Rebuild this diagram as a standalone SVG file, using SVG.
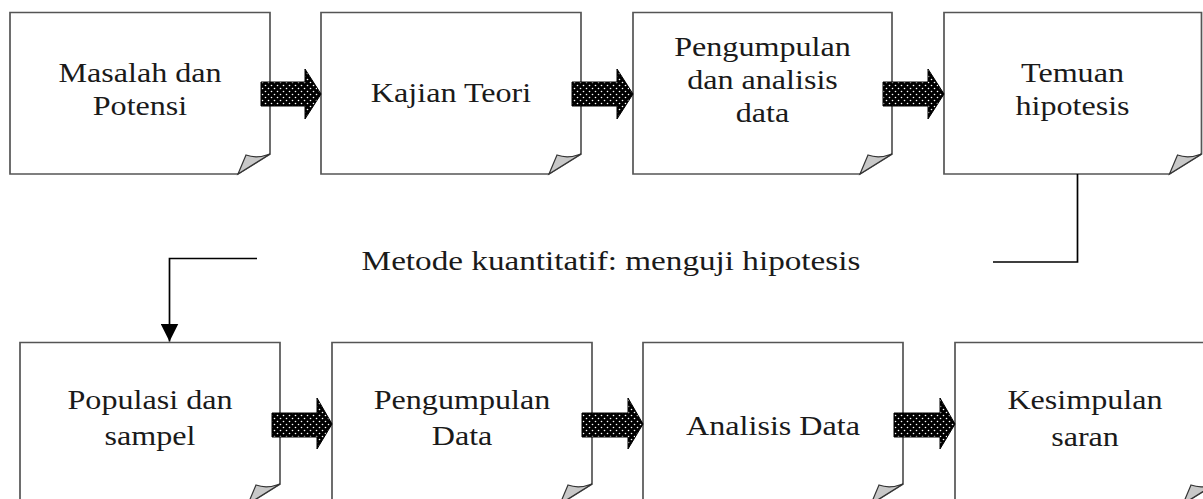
<svg xmlns="http://www.w3.org/2000/svg" width="1203" height="499" viewBox="0 0 1203 499">
<defs>
<pattern id="dots" width="6" height="6" patternUnits="userSpaceOnUse">
<rect width="6" height="6" fill="#000"/>
<circle cx="1.5" cy="1.5" r="0.8" fill="#fff"/>
<circle cx="4.5" cy="4.5" r="0.8" fill="#fff"/>
</pattern>
<marker id="ah" markerWidth="18" markerHeight="18" viewBox="0 0 18 18" refX="18" refY="9" orient="auto" markerUnits="userSpaceOnUse">
<path d="M0,0 L18,9 L0,18 Z" fill="#000"/>
</marker>
</defs>
<style>
.box{fill:#fff;stroke:#555;stroke-width:1.7}
.flap{fill:#c8c8c8;stroke:#333;stroke-width:1.2}
.blk{fill:url(#dots);stroke:#000;stroke-width:1}
.t{font-family:"Liberation Serif","Times New Roman",serif;font-size:27px;fill:#1a1a1a;text-anchor:middle}
.conn{fill:none;stroke:#000;stroke-width:1.7}
</style>

<g id="node-masalah">
<path class="box" d="M10,12.5 H270 V154 L238,174 H10 Z"/>
<path class="flap" d="M238,174 L246,155 Q257,159 270,154 Z"/>
<text class="t" transform="translate(140,82) scale(1.19,1)">Masalah dan</text>
<text class="t" transform="translate(140,115) scale(1.19,1)">Potensi</text>
</g>
<g id="node-kajian">
<path class="box" d="M321,12.5 H581 V154 L549,174 H321 Z"/>
<path class="flap" d="M549,174 L557,155 Q568,159 581,154 Z"/>
<text class="t" transform="translate(451,102) scale(1.19,1)">Kajian Teori</text>
</g>
<g id="node-pengumpulan1">
<path class="box" d="M633,12.5 H892 V154 L860,174 H633 Z"/>
<path class="flap" d="M860,174 L868,155 Q879,159 892,154 Z"/>
<text class="t" transform="translate(762.5,56) scale(1.19,1)">Pengumpulan</text>
<text class="t" transform="translate(762.5,89) scale(1.19,1)">dan analisis</text>
<text class="t" transform="translate(762.5,122) scale(1.19,1)">data</text>
</g>
<g id="node-temuan">
<path class="box" d="M944,12.5 H1201.5 V154 L1169.5,174 H944 Z"/>
<path class="flap" d="M1169.5,174 L1177.5,155 Q1188.5,159 1201.5,154 Z"/>
<text class="t" transform="translate(1072.5,82) scale(1.19,1)">Temuan</text>
<text class="t" transform="translate(1072.5,115) scale(1.19,1)">hipotesis</text>
</g>

<g id="node-populasi">
<path class="box" d="M20,342.5 H280 V484 L248,504 H20 Z"/>
<path class="flap" d="M248,504 L256,485 Q267,489 280,484 Z"/>
<text class="t" transform="translate(150,409) scale(1.19,1)">Populasi dan</text>
<text class="t" transform="translate(150,445) scale(1.19,1)">sampel</text>
</g>
<g id="node-pengumpulan2">
<path class="box" d="M332,342.5 H592 V484 L560,504 H332 Z"/>
<path class="flap" d="M560,504 L568,485 Q579,489 592,484 Z"/>
<text class="t" transform="translate(462,409) scale(1.19,1)">Pengumpulan</text>
<text class="t" transform="translate(462,445) scale(1.19,1)">Data</text>
</g>
<g id="node-analisis">
<path class="box" d="M643,342.5 H903 V484 L871,504 H643 Z"/>
<path class="flap" d="M871,504 L879,485 Q890,489 903,484 Z"/>
<text class="t" transform="translate(773,435) scale(1.19,1)">Analisis Data</text>
</g>
<g id="node-kesimpulan">
<path class="box" d="M955,342.5 H1215 V484 L1183,504 H955 Z"/>
<path class="flap" d="M1183,504 L1191,485 Q1202,489 1215,484 Z"/>
<text class="t" transform="translate(1085,409) scale(1.19,1)">Kesimpulan</text>
<text class="t" transform="translate(1085,446) scale(1.19,1)">saran</text>
</g>

<g id="label-metode">
<text class="t" transform="translate(611,270) scale(1.23,1)">Metode kuantitatif: menguji hipotesis</text>
</g>

<g id="connectors">
<path class="blk" d="M261,82 H305 V69 L321,94 L305,119 V106 H261 Z"/>
<path class="blk" d="M572,82 H617 V69 L633,94 L617,119 V106 H572 Z"/>
<path class="blk" d="M883,82 H928 V69 L944,94 L928,119 V106 H883 Z"/>
<path class="blk" d="M272,413 H317 V398 L332,424 L317,449 V437 H272 Z"/>
<path class="blk" d="M582,413 H628 V398 L643,424 L628,449 V437 H582 Z"/>
<path class="blk" d="M894,413 H940 V398 L955,424 L940,449 V437 H894 Z"/>
<polyline class="conn" points="1077.5,174 1077.5,262 993,262"/>
<polyline class="conn" points="257,258.5 169.5,258.5 169.5,341.5" marker-end="url(#ah)"/>
</g>
</svg>
